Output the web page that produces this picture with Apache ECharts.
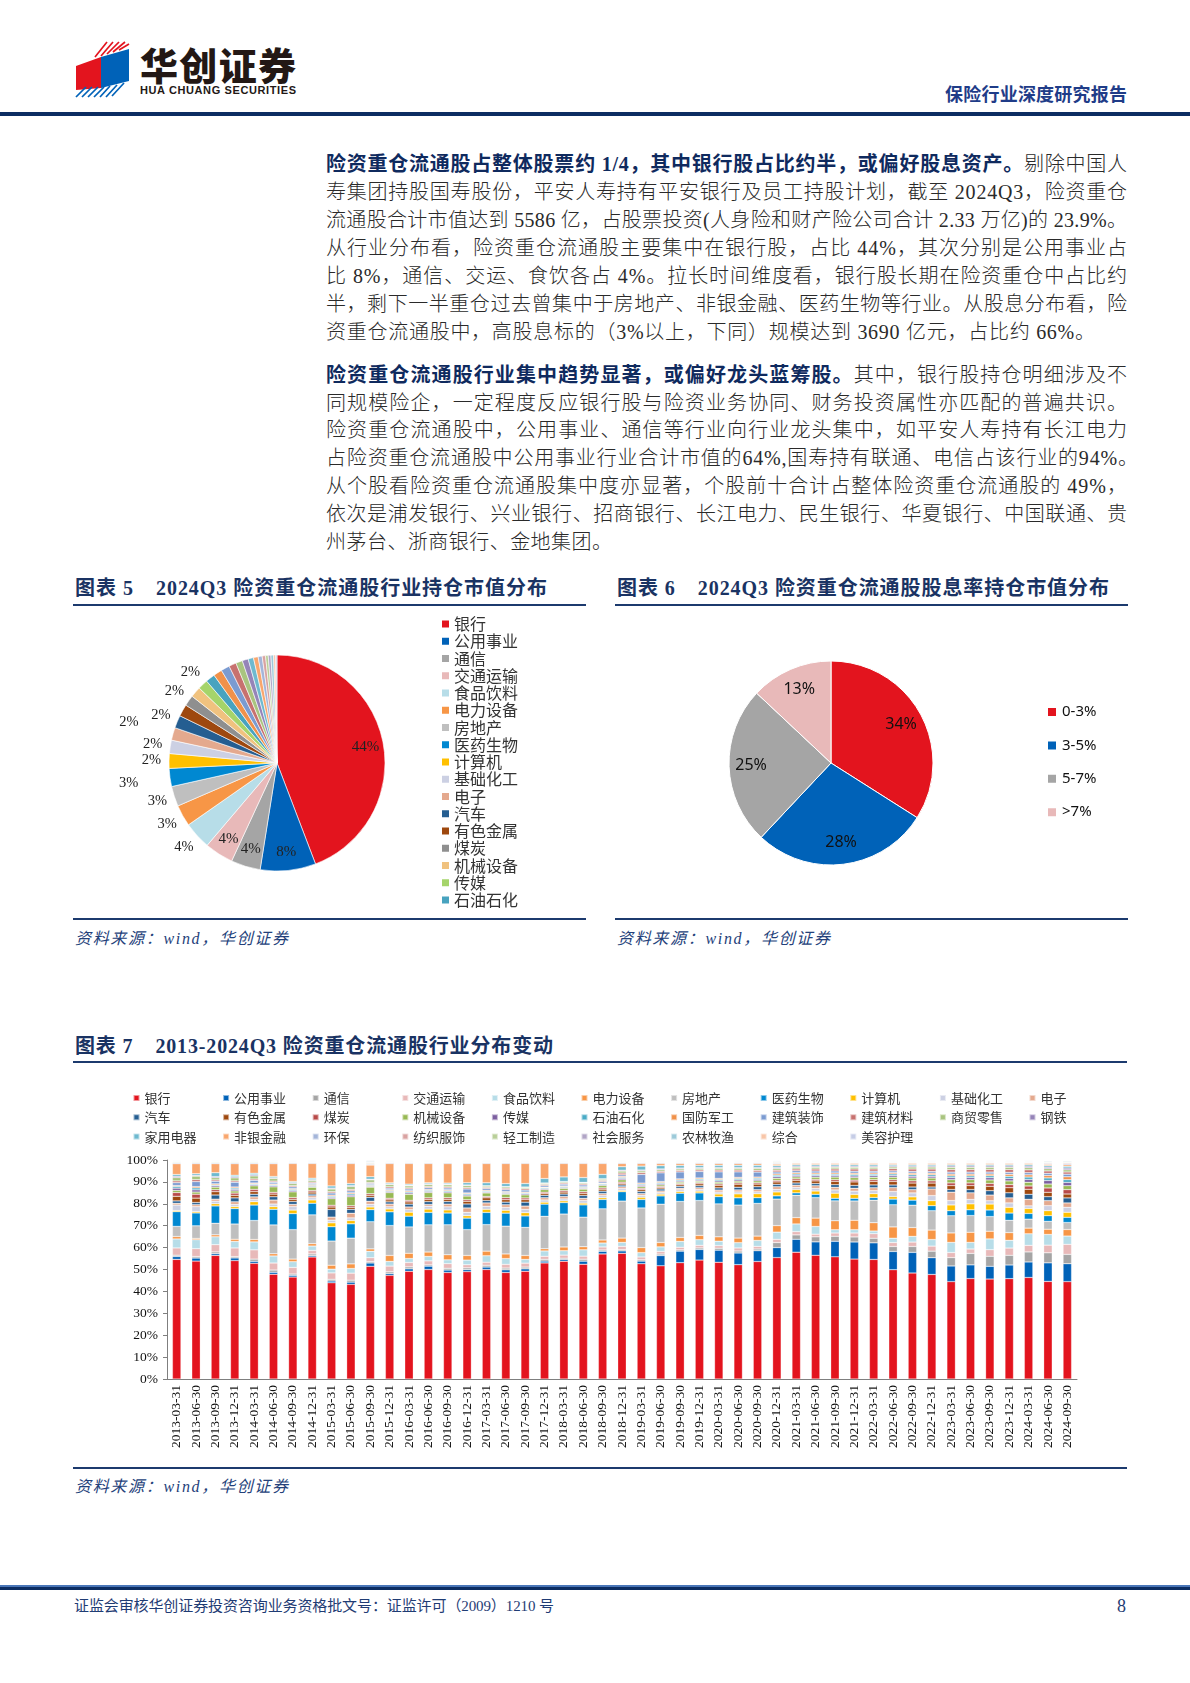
<!DOCTYPE html>
<html lang="zh-CN">
<head>
<meta charset="utf-8">
<title>险资重仓流通股行业分布</title>
<script src="https://cdn.jsdelivr.net/npm/echarts@6.0.0/dist/echarts.min.js"></script>
<style>
html,body{margin:0;padding:0;background:#fff;}
#page{position:relative;width:1190px;height:1683px;overflow:hidden;background:#fff;font-family:"Liberation Serif","Noto Sans CJK SC",serif;}
.abs{position:absolute;}
.t{position:absolute;white-space:nowrap;}
.line{left:326px;height:28px;line-height:28px;font-size:20px;color:#2a2a2a;font-weight:300;}
.line b{color:#0f2a5e;font-weight:bold;}
.ftitle{font-size:20px;font-weight:bold;color:#1a3363;height:26px;line-height:26px;}
.rule{position:absolute;background:#1c3a6e;}
.src{font-size:16px;font-style:italic;color:#24417a;height:22px;line-height:22px;}
</style>
</head>
<body>
<div id="page">
  <!-- header -->
  <svg class="abs" style="left:0;top:0" width="140" height="110">
    <g stroke="#e3141e" stroke-width="1.7">
      <line x1="95" y1="57" x2="107" y2="42"/>
      <line x1="101" y1="56" x2="113" y2="42"/>
      <line x1="107" y1="54" x2="119" y2="42"/>
      <line x1="113" y1="52" x2="125" y2="42"/>
      <line x1="119" y1="50" x2="129" y2="44"/>
    </g>
    <polygon points="76,66 101,57 101,88 76,90" fill="#e3141e"/>
    <polygon points="101,57 129,49 129,81 101,88" fill="#0062b8"/>
    <g stroke="#0062b8" stroke-width="1.7">
      <line x1="76" y1="97" x2="86" y2="87"/>
      <line x1="82" y1="97" x2="92" y2="87"/>
      <line x1="88" y1="97" x2="98" y2="87"/>
      <line x1="94" y1="97" x2="104" y2="87"/>
      <line x1="100" y1="97" x2="110" y2="86"/>
      <line x1="106" y1="97" x2="117" y2="85"/>
      <line x1="112" y1="96" x2="124" y2="83"/>
    </g>
  </svg>
  <div class="t" data-w="156" style="left:140px;top:42px;height:44px;line-height:44px;font-size:38px;font-weight:900;color:#231815;font-family:'Noto Sans CJK SC',sans-serif;">华创证券</div>
  <div class="t" data-w="156" style="left:140px;top:84px;height:13px;line-height:13px;font-size:11px;font-weight:bold;color:#231815;font-family:'Liberation Sans Narrow','Liberation Sans',sans-serif;">HUA CHUANG SECURITIES</div>
  <div class="t" data-w="182" style="left:945px;top:81px;height:24px;line-height:24px;font-size:18px;font-weight:bold;color:#1f3c88;font-family:'Noto Sans CJK SC',sans-serif;">保险行业深度研究报告</div>
  <div class="rule" style="left:0;top:112px;width:1190px;height:4px;background:#0c2d62;"></div>

  <!-- figure 5 / 6 -->
  <div class="t ftitle" data-w="472" style="left:75px;top:575px;">图表 5<span style="margin-left:22px"></span>2024Q3 险资重仓流通股行业持仓市值分布</div>
  <div class="rule" style="left:73px;top:604px;width:513px;height:2px;"></div>
  <div class="t ftitle" data-w="492" style="left:617px;top:575px;">图表 6<span style="margin-left:22px"></span>2024Q3 险资重仓流通股股息率持仓市值分布</div>
  <div class="rule" style="left:615px;top:604px;width:513px;height:2px;"></div>
  <div id="pie1" class="abs" style="left:73px;top:610px;width:513px;height:305px;"></div>
  <div id="pie2" class="abs" style="left:615px;top:610px;width:513px;height:305px;"></div>
  <div class="rule" style="left:73px;top:918px;width:513px;height:2px;"></div>
  <div class="rule" style="left:615px;top:918px;width:513px;height:2px;"></div>
  <div class="t src" data-w="213" style="left:75px;top:928px;">资料来源：wind，华创证券</div>
  <div class="t src" data-w="213" style="left:617px;top:928px;">资料来源：wind，华创证券</div>

  <!-- figure 7 -->
  <div class="t ftitle" data-w="478" style="left:75px;top:1033px;">图表 7<span style="margin-left:22px"></span>2013-2024Q3 险资重仓流通股行业分布变动</div>
  <div class="rule" style="left:73px;top:1061px;width:1054px;height:2px;"></div>
  <div id="bar" class="abs" style="left:73px;top:1070px;width:1054px;height:395px;"></div>
  <div class="rule" style="left:73px;top:1467px;width:1054px;height:2px;"></div>
  <div class="t src" data-w="213" style="left:75px;top:1476px;">资料来源：wind，华创证券</div>

  <!-- footer -->
  <div class="rule" style="left:0;top:1585px;width:1190px;height:2px;background:#4a76b8;"></div>
  <div class="rule" style="left:0;top:1587px;width:1190px;height:3px;background:#0c2d62;"></div>
  <div class="t" data-w="480" style="left:74px;top:1595px;height:22px;line-height:22px;font-size:15px;color:#1f3c74;">证监会审核华创证券投资咨询业务资格批文号：证监许可（2009）1210 号</div>
  <div class="t" style="left:1117px;top:1594px;height:24px;line-height:24px;font-size:18px;color:#1f3c74;">8</div>
</div>

<script>
// ---------------- text ----------------
const para1 = [
  '<b>险资重仓流通股占整体股票约 1/4，其中银行股占比约半，或偏好股息资产。</b>剔除中国人',
  '寿集团持股国寿股份，平安人寿持有平安银行及员工持股计划，截至 2024Q3，险资重仓',
  '流通股合计市值达到 5586 亿，占股票投资(人身险和财产险公司合计 2.33 万亿)的 23.9%。',
  '从行业分布看，险资重仓流通股主要集中在银行股，占比 44%，其次分别是公用事业占',
  '比 8%，通信、交运、食饮各占 4%。拉长时间维度看，银行股长期在险资重仓中占比约',
  '半，剩下一半重仓过去曾集中于房地产、非银金融、医药生物等行业。从股息分布看，险',
  '资重仓流通股中，高股息标的（3%以上，下同）规模达到 3690 亿元，占比约 66%。'
];
const para1Widths = [801, 801, 801, 801, 801, 801, 769];
const para2 = [
  '<b>险资重仓流通股行业集中趋势显著，或偏好龙头蓝筹股。</b>其中，银行股持仓明细涉及不',
  '同规模险企，一定程度反应银行股与险资业务协同、财务投资属性亦匹配的普遍共识。',
  '险资重仓流通股中，公用事业、通信等行业向行业龙头集中，如平安人寿持有长江电力',
  '占险资重仓流通股中公用事业行业合计市值的64%,国寿持有联通、电信占该行业的94%。',
  '从个股看险资重仓流通股集中度亦显著，个股前十合计占整体险资重仓流通股的 49%，',
  '依次是浦发银行、兴业银行、招商银行、长江电力、民生银行、华夏银行、中国联通、贵',
  '州茅台、浙商银行、金地集团。'
];
const para2Widths = [801, 801, 801, 812, 801, 801, 286];

// ---------------- data ----------------
const industries = ['银行','公用事业','通信','交通运输','食品饮料','电力设备','房地产','医药生物','计算机','基础化工','电子',
  '汽车','有色金属','煤炭','机械设备','传媒','石油石化','国防军工','建筑装饰','建筑材料','商贸零售','钢铁',
  '家用电器','非银金融','环保','纺织服饰','轻工制造','社会服务','农林牧渔','综合','美容护理'];

// Figure 5: 2024Q3 industry share (%)
const pie1Values = [44.2,8.3,4.4,4.3,4.1,3.2,3.0,2.7,2.2,2.0,1.9,1.9,1.8,1.6,1.6,1.5,1.4,1.3,1.3,1.1,1.0,0.9,0.8,0.7,0.6,0.5,0.4,0.4,0.4,0.3,0.2];
const pie1LegendCount = 17;

// Figure 6: dividend-yield buckets (%)
const yieldBuckets = ['0-3%','3-5%','5-7%','>7%'];
const yieldValues = [34, 28, 25, 13];

// Figure 7: periods
const periods = ['2013-03-31','2013-06-30','2013-09-30','2013-12-31','2014-03-31','2014-06-30','2014-09-30','2014-12-31',
  '2015-03-31','2015-06-30','2015-09-30','2015-12-31','2016-03-31','2016-06-30','2016-09-30','2016-12-31',
  '2017-03-31','2017-06-30','2017-09-30','2017-12-31','2018-03-31','2018-06-30','2018-09-30','2018-12-31',
  '2019-03-31','2019-06-30','2019-09-30','2019-12-31','2020-03-31','2020-06-30','2020-09-30','2020-12-31',
  '2021-03-31','2021-06-30','2021-09-30','2021-12-31','2022-03-31','2022-06-30','2022-09-30','2022-12-31',
  '2023-03-31','2023-06-30','2023-09-30','2023-12-31','2024-03-31','2024-06-30','2024-09-30'];
const yTicks = [0,10,20,30,40,50,60,70,80,90,100];

// Figure 7: industry shares per period (order = industries)
const d2013_03 = [54.4,1.3,0.6,3.3,4.1,1.1,4.6,6.7,0.5,2.5,0.8,1.1,2.1,1.7,1.0,1.0,0.8,0.4,1.3,0.8,1.5,0.6,0.8,4.9,0.4,0.2,0.3,0.2,0.3,0.2,0.1];
const d2013_06 = [54.1,1.4,0.7,3.6,4.1,0.6,5.8,5.9,0.6,2.3,0.9,1.0,2.0,1.8,1.0,1.0,0.9,0.6,2.3,0.9,1.6,0.4,0.7,4.6,0.4,0.2,0.3,0.2,0.3,0.2,0.1];
const d2013_09 = [56.5,0.8,0.8,3.3,3.6,0.9,5.3,7.9,1.0,1.2,0.9,1.9,1.5,0.9,1.2,0.6,0.4,0.5,1.2,0.6,1.0,0.5,1.8,4.1,0.4,0.2,0.3,0.2,0.3,0.2,0.1];
const d2013_12 = [54.4,1.2,0.6,4.0,3.0,1.0,7.0,7.1,0.9,1.0,1.2,1.8,1.2,1.0,1.0,0.7,0.6,0.5,2.2,0.6,1.4,0.5,0.7,5.3,0.4,0.2,0.3,0.2,0.3,0.2,0.1];
const d2014_03 = [52.4,0.9,1.0,4.2,3.6,1.1,8.6,7.0,1.5,1.0,1.2,1.2,1.2,1.0,1.6,0.5,0.4,0.4,1.2,0.6,1.4,0.5,0.7,4.3,0.4,0.2,0.3,0.2,0.3,0.2,0.1];
const d2014_06 = [47.6,0.9,1.0,3.2,3.2,1.0,13.1,7.1,1.2,1.2,1.8,1.5,1.2,0.8,2.5,0.5,0.4,0.4,0.8,0.5,1.2,0.3,0.6,5.8,0.4,0.2,0.3,0.2,0.3,0.2,0.1];
const d2014_09 = [46.4,0.8,0.6,3.0,2.6,1.2,13.4,7.3,1.6,1.6,1.0,1.3,1.0,0.8,2.6,0.6,0.5,0.4,0.8,0.5,1.0,0.4,0.5,8.2,0.4,0.2,0.2,0.2,0.3,0.2,0.1];
const d2014_12 = [55.6,0.6,0.8,1.6,2.0,1.1,13.1,5.3,1.5,1.0,0.9,0.8,0.9,0.7,1.5,0.4,0.4,0.4,0.6,0.5,0.8,0.3,0.7,6.7,0.4,0.2,0.2,0.2,0.3,0.2,0.1];
const d2015_03 = [43.8,0.8,0.8,2.9,1.7,1.8,11.0,6.5,1.8,1.2,1.4,3.5,1.1,0.8,3.0,0.6,0.5,0.5,1.0,0.6,1.2,0.4,1.0,10.2,0.4,0.2,0.2,0.2,0.3,0.2,0.1];
const d2015_06 = [43.0,1.0,0.9,3.2,2.1,2.1,11.7,6.5,1.5,1.2,2.1,1.8,0.9,0.7,4.1,0.7,0.6,0.5,0.9,0.6,1.4,0.4,0.9,9.1,0.4,0.2,0.2,0.2,0.3,0.2,0.1];
const d2015_09 = [51.1,1.5,0.6,1.8,2.9,1.1,12.3,5.5,1.2,1.2,1.4,1.8,0.9,0.7,3.0,0.4,0.4,0.3,0.6,0.4,1.2,0.3,1.1,5.3,0.4,0.3,0.3,0.3,0.4,0.3,0.3];
const d2015_12 = [46.8,0.8,0.8,2.6,2.1,2.7,13.5,6.2,1.3,1.0,1.2,1.0,0.9,0.7,2.6,0.5,0.4,0.4,0.7,0.6,1.0,0.3,0.5,8.7,0.4,0.2,0.2,0.2,0.3,0.2,0.1];
const d2016_03 = [49.1,1.1,0.9,2.0,1.8,2.4,12.0,4.9,1.8,1.2,1.2,1.3,1.0,0.7,2.8,0.6,0.5,0.5,0.8,0.5,0.9,0.3,0.5,9.4,0.4,0.2,0.2,0.2,0.3,0.2,0.1];
const d2016_06 = [49.5,1.5,0.6,1.8,2.0,2.0,12.3,5.6,1.5,1.3,0.8,1.3,1.0,0.7,2.4,0.5,0.5,0.4,0.8,0.5,0.9,0.3,0.5,8.7,0.4,0.2,0.2,0.2,0.3,0.2,0.1];
const d2016_09 = [48.0,1.1,0.8,2.1,1.7,2.3,13.5,5.3,1.4,1.4,1.2,1.2,1.0,0.7,2.2,0.5,0.5,0.4,0.8,0.5,0.9,0.3,0.5,8.8,0.4,0.2,0.2,0.2,0.3,0.2,0.1];
const d2016_12 = [48.6,0.9,0.8,1.4,2.1,2.1,11.7,5.2,1.1,1.5,2.0,1.8,1.2,0.7,1.7,0.5,0.5,0.4,1.8,0.6,0.9,0.3,1.0,8.7,0.4,0.2,0.2,0.2,0.3,0.2,0.1];
const d2017_03 = [49.5,1.1,0.8,1.4,2.9,2.1,12.0,5.5,1.4,1.4,1.5,1.1,1.2,0.6,1.6,0.4,0.4,0.4,0.8,0.5,0.6,0.2,1.3,8.7,0.4,0.2,0.2,0.2,0.3,0.2,0.1];
const d2017_06 = [48.3,1.2,0.8,1.7,2.6,2.1,12.6,5.9,1.3,1.3,1.2,1.2,1.1,0.9,1.6,0.4,0.4,0.4,0.9,0.6,0.6,0.2,1.3,9.1,0.4,0.2,0.2,0.2,0.3,0.2,0.1];
const d2017_09 = [49.1,1.1,0.8,1.8,1.7,1.8,12.8,5.2,1.5,1.5,1.5,1.8,1.1,0.8,1.4,0.5,0.4,0.4,0.9,0.6,0.6,0.2,1.6,9.1,0.4,0.2,0.2,0.2,0.3,0.2,0.1];
const d2017_12 = [52.6,0.8,0.8,1.4,2.4,1.0,14.7,5.5,0.9,1.0,1.0,1.1,0.8,0.6,1.2,0.4,0.4,0.3,0.7,0.5,0.5,0.2,2.0,6.8,0.4,0.2,0.2,0.2,0.3,0.2,0.1];
const d2018_03 = [53.6,0.8,0.6,1.4,2.0,1.7,15.0,5.2,0.8,0.9,1.1,1.1,0.9,0.7,1.0,0.4,0.4,0.3,0.8,0.5,0.5,0.2,2.1,6.1,0.4,0.2,0.2,0.2,0.3,0.2,0.1];
const d2018_06 = [52.4,1.4,0.9,1.4,2.9,1.4,13.5,5.6,0.8,1.2,1.0,1.3,1.0,0.7,1.2,0.4,0.4,0.3,0.8,0.5,0.5,0.2,2.2,6.4,0.4,0.2,0.2,0.2,0.3,0.2,0.1];
const d2018_09 = [57.4,1.2,0.6,1.4,1.8,1.4,14.3,4.3,0.8,1.0,0.9,1.1,0.9,0.6,1.1,0.4,0.4,0.3,0.7,0.5,0.6,0.2,2.0,5.0,0.4,0.2,0.2,0.2,0.3,0.2,0.1];
const d2018_12 = [57.8,1.1,0.6,1.5,1.8,2.0,17.0,4.3,0.6,0.9,0.8,0.8,0.7,0.6,1.1,0.6,0.5,0.5,0.7,0.8,0.9,0.4,1.6,1.5,0.4,0.2,0.2,0.2,0.3,0.2,0.1];
const d2019_03 = [52.9,1.2,0.6,1.3,2.0,2.3,18.2,3.9,1.0,0.9,0.8,1.0,0.8,0.6,0.8,0.6,0.5,0.5,4.0,0.8,0.8,0.4,1.8,1.2,0.4,0.2,0.2,0.2,0.3,0.2,0.1];
const d2019_06 = [52.0,4.7,0.7,1.2,2.1,2.0,17.6,3.8,0.8,0.8,0.7,0.9,0.7,0.5,0.7,0.5,0.5,0.5,4.0,0.7,0.7,0.4,1.5,1.0,0.4,0.2,0.2,0.2,0.3,0.2,0.1];
const d2019_09 = [53.6,5.3,0.6,1.2,2.7,1.8,16.6,3.8,0.8,0.8,0.7,0.9,0.7,0.5,0.7,0.5,0.5,0.5,3.2,0.7,0.7,0.4,1.2,0.9,0.4,0.2,0.2,0.2,0.3,0.2,0.1];
const d2019_12 = [54.9,4.9,0.7,1.2,2.6,2.0,16.1,3.5,0.8,0.8,0.8,0.9,0.9,0.5,0.7,0.5,0.5,0.5,3.0,0.7,0.7,0.4,1.0,0.9,0.4,0.2,0.2,0.2,0.3,0.2,0.1];
const d2020_03 = [53.2,5.5,0.9,1.2,2.0,2.0,15.0,3.3,1.2,0.9,0.9,1.0,1.2,0.6,0.8,0.6,0.6,0.5,3.0,0.8,0.8,0.4,1.0,0.8,0.4,0.2,0.2,0.2,0.3,0.2,0.1];
const d2020_06 = [52.0,5.3,0.9,1.4,2.4,2.1,15.0,3.3,1.8,0.9,0.9,1.2,1.4,0.6,0.8,0.6,0.6,0.5,2.5,0.8,0.8,0.4,1.0,0.8,0.4,0.2,0.2,0.2,0.3,0.2,0.1];
const d2020_09 = [53.6,4.9,0.8,1.2,2.7,2.0,14.9,2.6,1.8,0.9,1.0,1.3,1.2,0.6,0.9,0.6,0.6,0.5,2.3,0.8,0.9,0.4,1.0,0.8,0.4,0.2,0.2,0.2,0.3,0.2,0.1];
const d2020_12 = [55.9,4.6,2.3,1.5,3.3,3.0,12.2,1.5,1.8,1.2,1.2,1.1,1.1,0.7,1.0,0.7,0.7,0.6,0.9,0.8,0.8,0.5,0.8,0.7,0.4,0.3,0.3,0.3,0.3,0.2,0.1];
const d2021_03 = [57.9,5.9,2.0,1.5,3.5,2.9,10.2,1.1,1.5,1.0,1.0,1.0,1.2,0.7,0.9,0.7,0.6,0.6,0.9,0.8,0.8,0.5,0.7,0.6,0.3,0.2,0.2,0.2,0.3,0.2,0.1];
const d2021_06 = [56.2,6.1,2.3,1.2,3.5,3.8,9.3,1.5,1.5,1.2,1.2,1.0,1.2,0.7,1.0,0.7,0.6,0.6,0.9,0.9,0.8,0.5,0.7,0.6,0.3,0.2,0.2,0.2,0.3,0.2,0.1];
const d2021_09 = [55.9,7.1,2.3,1.5,1.5,4.1,9.1,1.2,2.3,1.5,1.2,1.2,1.5,0.8,1.2,0.7,0.6,0.6,0.9,0.9,0.8,0.5,0.7,0.6,0.3,0.2,0.2,0.2,0.3,0.2,0.1];
const d2021_12 = [54.7,7.8,2.3,1.8,1.5,4.3,8.8,1.2,1.8,1.5,1.3,1.3,1.6,0.8,1.2,0.7,0.7,0.6,0.9,1.0,0.8,0.5,0.7,0.6,0.3,0.2,0.2,0.2,0.3,0.2,0.1];
const d2022_03 = [54.7,7.6,2.1,2.1,1.2,3.8,10.3,1.2,1.8,1.4,1.3,1.3,1.6,0.8,1.1,0.7,0.7,0.6,0.8,1.0,0.8,0.5,0.7,0.6,0.3,0.2,0.2,0.2,0.3,0.2,0.1];
const d2022_06 = [50.3,8.4,2.3,1.8,2.0,5.2,10.2,2.6,1.2,2.3,1.8,1.2,1.6,0.8,1.2,0.8,0.7,0.6,0.8,1.0,0.8,0.5,0.6,0.6,0.3,0.2,0.2,0.2,0.3,0.2,0.1];
const d2022_09 = [48.3,9.4,2.7,2.0,2.6,4.0,10.2,2.3,1.5,1.8,1.5,1.2,1.8,1.0,1.3,0.8,0.7,0.7,0.8,1.1,0.9,0.5,0.6,0.6,0.3,0.2,0.2,0.2,0.3,0.2,0.1];
const d2022_12 = [47.6,7.6,3.0,2.3,3.0,4.3,8.8,2.3,2.3,2.3,3.0,0.9,1.8,1.0,1.3,0.8,0.7,0.7,0.8,1.1,0.9,0.5,0.6,0.6,0.3,0.2,0.2,0.2,0.3,0.2,0.1];
const d2023_03 = [44.2,7.1,3.8,2.3,4.6,4.3,7.8,2.3,2.6,2.0,3.8,1.2,1.8,1.2,1.5,0.9,0.8,0.8,0.9,1.2,1.0,0.6,0.6,0.6,0.3,0.2,0.2,0.2,0.3,0.2,0.1];
const d2023_06 = [45.6,6.2,5.2,2.0,3.0,4.6,7.6,2.6,2.7,2.0,3.0,1.5,1.8,1.2,1.5,0.9,0.8,0.8,0.9,1.2,1.0,0.6,0.6,0.6,0.3,0.2,0.2,0.2,0.3,0.2,0.1];
const d2023_09 = [45.6,5.8,4.6,3.0,4.9,3.5,6.7,3.0,2.7,1.5,2.6,2.0,2.0,1.3,1.6,1.0,0.9,0.8,0.9,1.2,1.0,0.6,0.6,0.6,0.3,0.2,0.2,0.2,0.3,0.2,0.1];
const d2023_12 = [45.6,6.2,4.4,3.3,3.5,3.5,5.6,3.3,2.6,2.0,2.3,2.3,2.3,1.4,1.7,1.1,1.0,0.9,0.9,1.3,1.0,0.6,0.6,0.6,0.3,0.2,0.2,0.2,0.3,0.2,0.1];
const d2024_03 = [46.5,7.1,4.6,3.0,5.3,2.6,4.1,2.6,2.3,1.2,3.0,2.3,2.3,1.5,1.7,1.3,1.1,1.0,1.0,1.3,1.0,0.7,0.7,0.6,0.3,0.2,0.2,0.2,0.3,0.2,0.1];
const d2024_06 = [44.7,8.5,4.6,3.5,4.9,2.4,3.6,2.6,2.3,2.3,2.3,1.8,2.0,2.0,1.8,1.6,1.2,1.1,1.0,1.1,1.0,0.7,0.7,0.6,0.4,0.3,0.3,0.3,0.3,0.2,0.2];
const d2024_09 = [44.7,8.2,4.3,4.6,3.8,3.0,3.2,2.4,2.3,2.3,2.0,2.3,1.8,2.0,1.8,1.5,1.3,1.3,1.2,1.0,1.0,0.8,0.8,0.7,0.5,0.4,0.3,0.3,0.3,0.2,0.2];

const periodRows = [d2013_03,d2013_06,d2013_09,d2013_12,d2014_03,d2014_06,d2014_09,d2014_12,
  d2015_03,d2015_06,d2015_09,d2015_12,d2016_03,d2016_06,d2016_09,d2016_12,
  d2017_03,d2017_06,d2017_09,d2017_12,d2018_03,d2018_06,d2018_09,d2018_12,
  d2019_03,d2019_06,d2019_09,d2019_12,d2020_03,d2020_06,d2020_09,d2020_12,
  d2021_03,d2021_06,d2021_09,d2021_12,d2022_03,d2022_06,d2022_09,d2022_12,
  d2023_03,d2023_06,d2023_09,d2023_12,d2024_03,d2024_06,d2024_09];

// ---------------- styles ----------------
const barPalette = ['#e3141e','#0062b8','#a5a5a5','#e8b9b9','#b7dde8','#f79646','#bfbfbf','#0088d1','#ffc000','#ccd0e3','#e4a98e',
  '#255e91','#9e480e','#b84a48','#98b954','#7c5fa0','#4aabc6','#f0914a','#7b9bd1','#c7716f','#a9c47f','#9584b8',
  '#6eb9cf','#f9a66d','#a4b5d9','#d9a2a1','#b9cf98','#b1a5c6','#9ccad9','#f8c6a8','#c6cde6'];
const pie1Palette = ['#e3141e','#0062b8','#a5a5a5','#e8b9b9','#b7dde8','#f79646','#bfbfbf','#0088d1','#ffc000','#ccd0e3','#e4a98e',
  '#255e91','#9e480e','#8f8f8f','#f0c27f','#a5d46a','#48a3bf','#f0914a','#7b9bd1','#c7716f','#a9c47f','#9584b8',
  '#6eb9cf','#f9a66d','#a4b5d9','#d9a2a1','#b9cf98','#b1a5c6','#9ccad9','#f8c6a8','#c6cde6'];
const pie2Palette = ['#e3141e','#0062b8','#a5a5a5','#e8b9b9'];
const SERIF = '"Liberation Serif","Noto Sans CJK SC",serif';
const CJK = '"Noto Sans CJK SC",sans-serif';

// ---------------- build text ----------------
const page = document.getElementById('page');
function addLines(lines, widths, firstCenter) {
  lines.forEach((html, i) => {
    const d = document.createElement('div');
    d.className = 't line';
    d.innerHTML = html;
    d.dataset.w = widths[i];
    d.style.top = (firstCenter + 27.9 * i - 14) + 'px';
    page.appendChild(d);
  });
}
addLines(para1, para1Widths, 164.2);
addLines(para2, para2Widths, 374.6);

function fitAll() {
  document.querySelectorAll('[data-w]').forEach(el => {
    const target = parseFloat(el.dataset.w);
    el.style.letterSpacing = '0px';
    const w = el.getBoundingClientRect().width;
    const n = Array.from(el.textContent).length;
    if (n > 1) el.style.letterSpacing = ((target - w) / (n - 1)) + 'px';
  });
}
fitAll();

// ---------------- Figure 5 ----------------
const pie1 = echarts.init(document.getElementById('pie1'), null, {renderer: 'canvas'});
const pctFmt = p => Math.round(p.value) + '%';
const farLabel = {'医药生物': 41, '电子': 45};
pie1.setOption({
  animation: false,
  legend: {
    orient: 'vertical', left: 367, top: 6, padding: 0,
    itemWidth: 9, itemHeight: 9, itemGap: 1.25, icon: 'rect', selectedMode: false,
    data: industries.slice(0, pie1LegendCount),
    textStyle: {fontSize: 16, lineHeight: 16, color: '#333', fontFamily: CJK, padding: [0, 0, 0, -1]}
  },
  series: [
    {
      type: 'pie', center: [204, 153], radius: [0, 108], startAngle: 90, clockwise: true,
      avoidLabelOverlap: false, emphasis: {disabled: true},
      itemStyle: {borderColor: '#fff', borderWidth: 0.6},
      label: {position: 'outside', formatter: pctFmt, fontSize: 14.5, color: '#222', fontFamily: SERIF, distanceToLabelLine: -9},
      data: industries.map((n, i) => ({
        name: n, value: pie1Values[i],
        itemStyle: {color: pie1Palette[i]},
        label: {show: i >= 4 && i < 16},
        labelLine: {show: false, length: farLabel[n] || 17, length2: 0}
      }))
    },
    {
      type: 'pie', center: [204, 153], radius: [66, 108], startAngle: 90, clockwise: true,
      silent: true, avoidLabelOverlap: false, emphasis: {disabled: true}, legendHoverLink: false,
      itemStyle: {color: 'rgba(0,0,0,0)', borderWidth: 0},
      label: {position: 'inside', formatter: pctFmt, fontSize: 15, color: '#222', fontFamily: SERIF},
      labelLine: {show: false},
      data: industries.map((n, i) => ({
        name: n, value: pie1Values[i],
        itemStyle: {color: 'rgba(0,0,0,0)'},
        label: {show: i < 4}
      }))
    }
  ]
});

// ---------------- Figure 6 ----------------
const pie2 = echarts.init(document.getElementById('pie2'), null, {renderer: 'canvas'});
pie2.setOption({
  animation: false,
  legend: {
    orient: 'vertical', left: 431, top: 93, padding: 0,
    itemWidth: 10, itemHeight: 10, itemGap: 15.4, icon: 'rect', selectedMode: false,
    data: yieldBuckets,
    textStyle: {fontSize: 15, lineHeight: 18, color: '#111', fontFamily: '"Noto Sans",sans-serif'}
  },
  series: [
    {
      type: 'pie', center: [216, 153], radius: [0, 102], startAngle: 90, clockwise: true,
      emphasis: {disabled: true}, label: {show: false}, labelLine: {show: false},
      itemStyle: {borderColor: '#fff', borderWidth: 1},
      data: yieldBuckets.map((n, i) => ({name: n, value: yieldValues[i], itemStyle: {color: pie2Palette[i]}}))
    },
    {
      type: 'pie', center: [216, 153], radius: [52, 102], startAngle: 90, clockwise: true,
      silent: true, emphasis: {disabled: true}, legendHoverLink: false,
      itemStyle: {color: 'rgba(0,0,0,0)', borderWidth: 0},
      label: {position: 'inside', formatter: p => p.value + '%', fontSize: 16, color: '#111', fontFamily: '"Noto Sans",sans-serif'},
      labelLine: {show: false},
      data: yieldBuckets.map((n, i) => ({name: n, value: yieldValues[i], itemStyle: {color: 'rgba(0,0,0,0)'}}))
    }
  ]
});

// ---------------- Figure 7 ----------------
const bar = echarts.init(document.getElementById('bar'), null, {renderer: 'canvas'});
const rowTotals = periodRows.map(r => r.reduce((a, b) => a + b, 0));
const legendRows = [industries.slice(0, 11), industries.slice(11, 22), industries.slice(22)];
const legendCols = [];
for (let j = 0; j < 11; j++) {
  legendCols.push(legendRows.map(r => r[j]).filter(Boolean));
}
const axisGray = '#7f7f7f';
bar.setOption({
  animation: false,
  grid: {left: 94, right: 50, top: 90, bottom: 86},
  legend: legendCols.map((col, j) => ({
    orient: 'vertical', left: 59.5 + 89.6 * j, top: 21.5, padding: 0,
    itemWidth: 6, itemHeight: 6, itemGap: 6.3, icon: 'rect', selectedMode: false,
    data: col,
    textStyle: {fontSize: 13, lineHeight: 13, color: '#333', fontFamily: CJK}
  })),
  xAxis: {
    type: 'category', data: periods,
    axisLine: {lineStyle: {color: axisGray, width: 1}},
    axisTick: {length: 4, lineStyle: {color: axisGray}},
    axisLabel: {rotate: 90, interval: 0, fontSize: 13.5, color: '#111', fontFamily: SERIF, margin: 6}
  },
  yAxis: {
    type: 'value', min: yTicks[0], max: yTicks[yTicks.length - 1], interval: yTicks[1] - yTicks[0],
    axisLine: {show: true, lineStyle: {color: axisGray, width: 1}},
    axisTick: {show: true, length: 4, lineStyle: {color: axisGray}},
    splitLine: {show: false},
    axisLabel: {formatter: '{value}%', fontSize: 13.5, color: '#111', fontFamily: SERIF, margin: 9}
  },
  series: industries.map((n, k) => ({
    type: 'bar', name: n, stack: 'share', barWidth: 8.5,
    emphasis: {disabled: true},
    itemStyle: {color: barPalette[k], borderColor: 'rgba(255,255,255,0.55)', borderWidth: 0.5},
    data: periodRows.map((r, i) => r[k] / rowTotals[i] * 100)
  }))
});

if (document.fonts && document.fonts.ready) {
  document.fonts.ready.then(() => { fitAll(); });
}
</script>
</body>
</html>
